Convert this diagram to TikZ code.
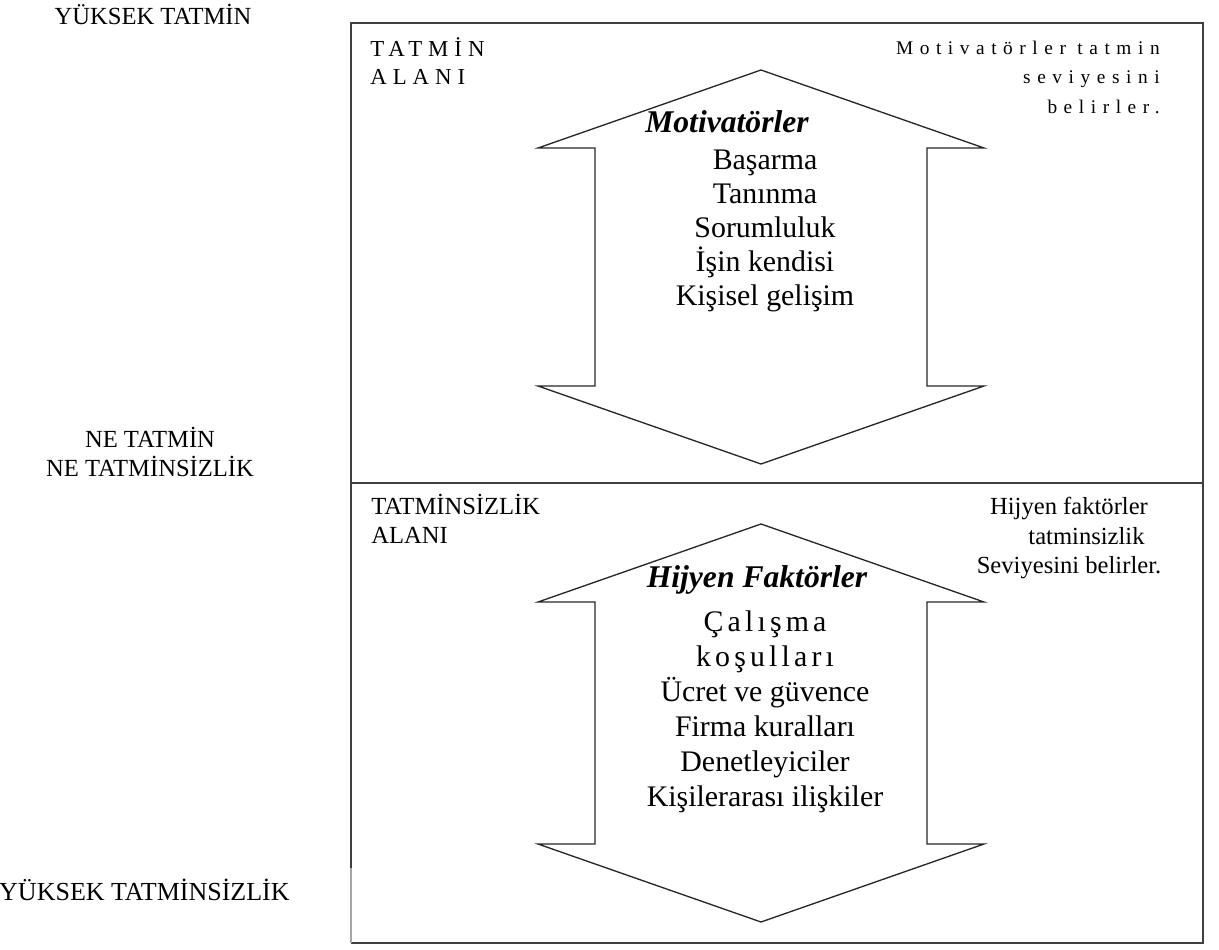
\documentclass[tikz,border=0pt]{standalone}
\usepackage{fontspec}
\setmainfont{Liberation Serif}
\usepackage{tikz}
\usetikzlibrary{positioning, calc}
\newcommand{\tracked}[2]{{\addfontfeature{LetterSpace=#1}#2}}
\tikzset{zone/.style={draw=black!75,line width=1pt},
         bigarrow/.style={draw=black!85,line width=0.75pt,line join=miter},
         level/.style={font=\fontsize{14}{16}\selectfont,align=center,inner sep=0pt},
         area/.style={font=\fontsize{14}{16.5}\selectfont,align=left,inner sep=0pt},
         spacedarea/.style={font=\fontsize{13}{16}\selectfont\addfontfeature{LetterSpace=26},align=left,inner sep=0pt},
         spacednote/.style={font=\fontsize{11}{16.8}\selectfont\addfontfeature{LetterSpace=34},align=right,inner sep=0pt},
         note/.style={font=\fontsize{14}{16.8}\selectfont,align=center,inner sep=0pt},
         head/.style={font=\fontsize{18}{20}\selectfont\bfseries\itshape,inner sep=0pt},
         items/.style={font=\fontsize{17}{19.4}\selectfont,align=center,inner sep=0pt}}

\begin{document}
\begin{tikzpicture}[x=0.02cm,y=-0.02cm]
    \useasboundingbox (0,0) rectangle (1219,949);
    % Frame
    \draw[zone] (351,868) -- (351,23) -- (1203,23) -- (1203,943) -- (351,943);
    \draw[zone,draw=black!35] (351,868) -- (351,943);
    \draw[zone] (351,483) -- (1203,483);
    % Arrows
    \draw[bigarrow] (761,70) -- (984,148) -- (927,148) -- (927,386) -- (984,386) -- (761,464)
        -- (538,386) -- (595,386) -- (595,148) -- (538,148) -- cycle;
    \draw[bigarrow] (761,524) -- (984,602) -- (927,602) -- (927,844) -- (984,844) -- (761,922)
        -- (538,844) -- (595,844) -- (595,602) -- (538,602) -- cycle;
    % Levels
    \node (high) at (153,14) [level]{YÜKSEK TATMİN};
    \node (neutral) at (150,452) [level]{NE TATMİN\\NE TATMİNSİZLİK};
    \node (low) at (290,890) [level,anchor=east,font=\fontsize{14.8}{16}\selectfont]{YÜKSEK TATMİNSİZLİK};
    % Areas
    \node (satarea) at (370,61) [spacedarea,anchor=west]{TATMİN\\ALANI};
    \node (dissatarea) at (371,519) [area,anchor=west]{TATMİNSİZLİK\\ALANI};
    \node (satnote) at (1160,77) [spacednote,anchor=east]{Motivatörler tatmin\\seviyesini\\belirler.};
    \node (dissatnote) at (1069,538) [note]{Hijyen faktörler\\\hspace*{0.7cm}tatminsizlik\\Seviyesini belirler.};
    % Factors
    \node (motiv) at (727,122) [head]{Motivatörler};
    \node (motivlist) at (765,231) [items]{Başarma\\Tanınma\\Sorumluluk\\İşin kendisi\\Kişisel gelişim};
    \node (hyg) at (757,580) [head]{Hijyen Faktörler};
    \node (hyglist) at (765,712) [items,font=\fontsize{17}{19.9}\selectfont]{\tracked{14}{Çalışma}\\\tracked{14}{koşulları}\\Ücret ve güvence\\Firma kuralları\\Denetleyiciler\\Kişilerarası ilişkiler};
\end{tikzpicture}
\end{document}
